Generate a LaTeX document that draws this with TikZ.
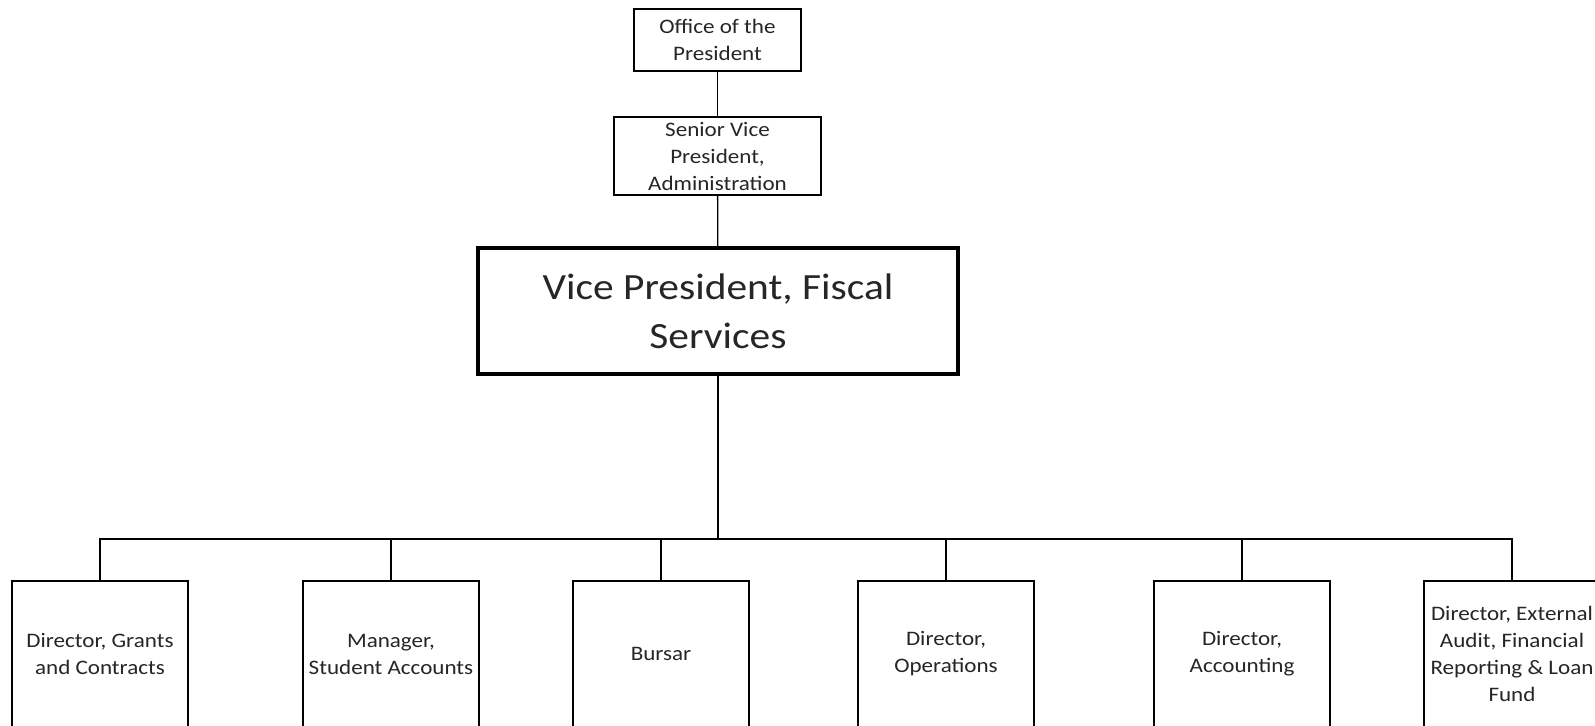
\documentclass[tikz,border=0pt]{standalone}
\usepackage{fontspec}
\setmainfont{Carlito}[FakeStretch=1.12]
\begin{document}
\begin{tikzpicture}[x=0.5pt,y=-0.5pt,
  box/.style={draw=black,line width=0.65pt,fill=white,rectangle,inner sep=0pt,align=center,
    text=black!85,font=\fontsize{10.3}{13.5}\selectfont},
  bigbox/.style={box,line width=1.6pt,font=\fontsize{18.5}{24.5}\selectfont},
  unit/.style={box,minimum width=88pt,minimum height=73pt},
  link/.style={draw=black,line width=0.65pt}]
\clip (0,0) rectangle (1595,725);
\fill[white] (0,0) rectangle (1595,725);
% top of the chart
\node[box,minimum width=83.5pt,minimum height=31pt] (pres) at (717.5,40) {Office of the\\President};
\node[box,minimum width=103.5pt,minimum height=39pt] (svp) at (717.5,156) {Senior Vice\\President,\\Administration};
\node[bigbox,minimum width=240pt,minimum height=63pt] (vp) at (718,311) {Vice President, Fiscal\\Services};
% units reporting to the VP
\node[unit] (grants) at (100,654) {Director, Grants\\and Contracts};
\node[unit] (student) at (391,654) {Manager,\\Student Accounts};
\node[unit] (bursar) at (661,654) {Bursar};
\node[unit] (ops) at (946,654) {Director,\\Operations};
\node[unit] (acct) at (1242,654) {Director,\\Accounting};
\node[unit] (audit) at (1512,654) {Director, External\\Audit, Financial\\Reporting \& Loan\\Fund};
\coordinate (bus) at (718,539);
% connectors
\draw[link] (pres) -- (svp);
\draw[link] (svp) -- (vp);
\draw[link] (vp.south) -- (bus);
\foreach \n in {grants,student,bursar,ops,acct,audit}
  \draw[link] (\n.north) |- (bus);
\end{tikzpicture}
\end{document}
